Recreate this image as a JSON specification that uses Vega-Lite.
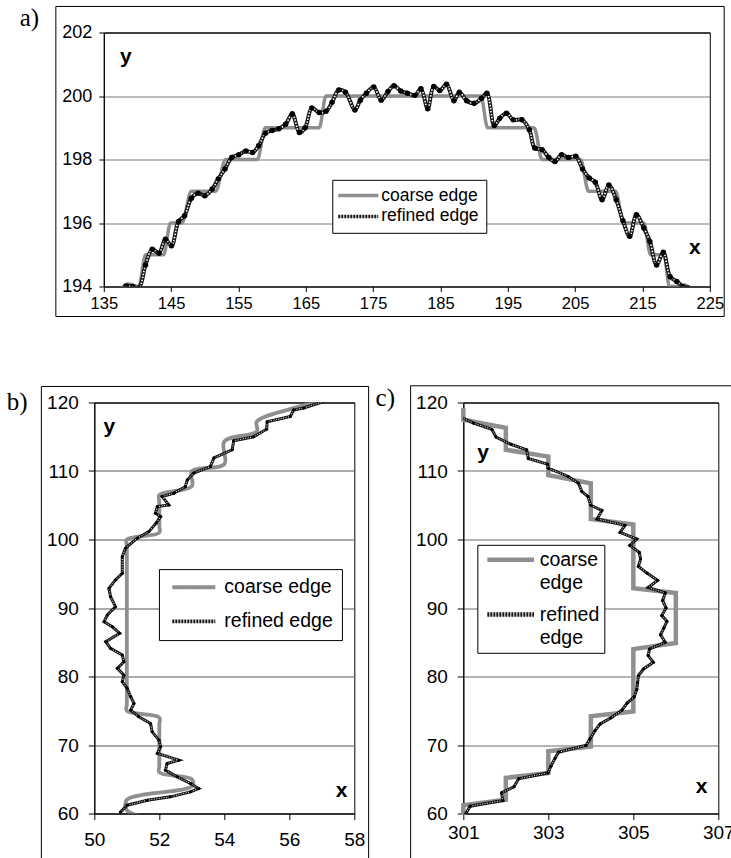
{
  "$schema": "https://vega.github.io/schema/vega-lite/v6.json",
  "background": "white",
  "padding": {"left": 6, "top": 4.5, "right": 0, "bottom": 0},
  "autosize": {"type": "pad"},
  "config": {
    "font": "Liberation Sans",
    "view": {"stroke": "#000", "strokeWidth": 1},
    "axis": {"title": null, "labelFont": "Liberation Sans", "labelColor": "#000", "domainColor": "#000", "tickColor": "#000", "labelFlush": false, "labelOverlap": false, "labelBound": false, "domainWidth": 1, "tickWidth": 1},
    "legend": {"title": null, "orient": "none", "strokeColor": "#000", "fillColor": "#fff", "labelFont": "Liberation Sans", "labelColor": "#000", "symbolType": "stroke"}
  },
  "datasets": {
    "coarseA": [
      {"x": 137.7, "y": 193.95}, {"x": 138.6, "y": 194.08}, {"x": 140.2, "y": 194.0}, {"x": 141.2, "y": 195.0}, {"x": 143.9, "y": 195.0}, {"x": 144.9, "y": 196.0}, {"x": 146.6, "y": 196.0}, {"x": 148.0, "y": 197.0}, {"x": 151.6, "y": 197.0}, {"x": 153.1, "y": 198.0}, {"x": 157.8, "y": 198.0}, {"x": 159.0, "y": 199.0}, {"x": 167.0, "y": 199.0}, {"x": 168.0, "y": 200.0}, {"x": 191.0, "y": 200.0}, {"x": 192.0, "y": 199.0}, {"x": 198.9, "y": 199.0}, {"x": 200.1, "y": 198.0}, {"x": 205.8, "y": 198.0}, {"x": 207.0, "y": 197.0}, {"x": 211.0, "y": 197.0}, {"x": 212.2, "y": 196.0}, {"x": 215.2, "y": 196.0}, {"x": 216.2, "y": 195.0}, {"x": 218.2, "y": 195.0}, {"x": 219.0, "y": 194.0}, {"x": 220.5, "y": 194.0}, {"x": 221.3, "y": 194.05}, {"x": 222.0, "y": 193.95}
    ],
    "refinedA": [
      {"x": 138.3, "y": 194.02}, {"x": 139.3, "y": 194.0}, {"x": 140.2, "y": 193.95}, {"x": 141.2, "y": 194.68}, {"x": 142.2, "y": 195.17}, {"x": 143.2, "y": 195.05}, {"x": 144.15, "y": 195.49}, {"x": 145.05, "y": 195.28}, {"x": 146.1, "y": 196.05}, {"x": 147.0, "y": 196.23}, {"x": 148.0, "y": 196.78}, {"x": 149.0, "y": 196.94}, {"x": 150.0, "y": 196.86}, {"x": 151.1, "y": 197.07}, {"x": 152.0, "y": 197.39}, {"x": 153.0, "y": 197.7}, {"x": 154.0, "y": 198.06}, {"x": 155.05, "y": 198.15}, {"x": 156.1, "y": 198.27}, {"x": 157.1, "y": 198.22}, {"x": 158.0, "y": 198.43}, {"x": 159.0, "y": 198.83}, {"x": 160.0, "y": 198.91}, {"x": 161.0, "y": 198.97}, {"x": 162.0, "y": 199.11}, {"x": 163.0, "y": 199.44}, {"x": 164.05, "y": 198.85}, {"x": 164.9, "y": 199.0}, {"x": 165.9, "y": 199.62}, {"x": 167.0, "y": 199.48}, {"x": 168.0, "y": 199.52}, {"x": 168.9, "y": 199.8}, {"x": 169.9, "y": 200.19}, {"x": 170.9, "y": 200.12}, {"x": 172.3, "y": 199.56}, {"x": 173.1, "y": 199.87}, {"x": 174.0, "y": 200.09}, {"x": 175.1, "y": 200.28}, {"x": 176.2, "y": 199.87}, {"x": 177.2, "y": 200.14}, {"x": 178.1, "y": 200.32}, {"x": 179.1, "y": 200.16}, {"x": 180.1, "y": 200.09}, {"x": 181.2, "y": 200.02}, {"x": 182.1, "y": 200.23}, {"x": 183.1, "y": 199.6}, {"x": 184.0, "y": 200.3}, {"x": 184.9, "y": 200.17}, {"x": 185.9, "y": 200.37}, {"x": 187.0, "y": 199.85}, {"x": 187.8, "y": 200.12}, {"x": 188.9, "y": 199.85}, {"x": 190.0, "y": 199.77}, {"x": 191.1, "y": 199.93}, {"x": 191.9, "y": 200.09}, {"x": 193.0, "y": 199.07}, {"x": 193.8, "y": 199.3}, {"x": 194.8, "y": 199.46}, {"x": 195.8, "y": 199.25}, {"x": 197.1, "y": 199.25}, {"x": 198.2, "y": 198.94}, {"x": 199.0, "y": 198.36}, {"x": 200.1, "y": 198.31}, {"x": 201.1, "y": 198.06}, {"x": 202.0, "y": 197.94}, {"x": 203.0, "y": 198.15}, {"x": 204.0, "y": 198.06}, {"x": 205.1, "y": 198.1}, {"x": 206.1, "y": 197.7}, {"x": 207.1, "y": 197.42}, {"x": 208.0, "y": 197.28}, {"x": 209.0, "y": 196.73}, {"x": 210.0, "y": 197.2}, {"x": 211.1, "y": 196.73}, {"x": 212.1, "y": 196.07}, {"x": 213.1, "y": 195.58}, {"x": 214.1, "y": 196.26}, {"x": 215.2, "y": 195.84}, {"x": 216.1, "y": 195.42}, {"x": 217.1, "y": 194.68}, {"x": 218.1, "y": 195.08}, {"x": 219.1, "y": 194.31}, {"x": 220.1, "y": 194.16}, {"x": 221.0, "y": 194.0}, {"x": 221.8, "y": 193.95}
    ],
    "coarseB": [
      {"x": 57.1, "y": 120.3}, {"x": 56, "y": 119}, {"x": 55, "y": 117.2}, {"x": 55, "y": 115.8}, {"x": 54, "y": 114.3}, {"x": 54, "y": 111}, {"x": 53, "y": 110}, {"x": 53, "y": 107.8}, {"x": 52, "y": 106.5}, {"x": 52, "y": 105.5}, {"x": 52, "y": 102}, {"x": 52, "y": 101}, {"x": 51, "y": 100}, {"x": 51, "y": 99}, {"x": 51, "y": 76}, {"x": 51, "y": 75}, {"x": 52, "y": 74}, {"x": 52, "y": 73}, {"x": 52, "y": 67}, {"x": 52, "y": 66}, {"x": 53, "y": 65}, {"x": 53, "y": 64}, {"x": 51, "y": 62}, {"x": 51, "y": 60.5}, {"x": 51.7, "y": 59.3}
    ],
    "refinedB": [
      {"x": 57.06, "y": 120.15}, {"x": 56.44, "y": 119.2}, {"x": 56.13, "y": 118.9}, {"x": 56.03, "y": 117.96}, {"x": 55.32, "y": 117.2}, {"x": 55.3, "y": 116.1}, {"x": 54.9, "y": 115.0}, {"x": 54.29, "y": 114.4}, {"x": 54.24, "y": 113.1}, {"x": 53.68, "y": 111.9}, {"x": 53.57, "y": 110.65}, {"x": 53.06, "y": 109.7}, {"x": 52.86, "y": 108.7}, {"x": 52.8, "y": 107.7}, {"x": 52.45, "y": 106.77}, {"x": 52.09, "y": 106.27}, {"x": 52.29, "y": 105.05}, {"x": 51.94, "y": 104.8}, {"x": 51.88, "y": 103.84}, {"x": 52.04, "y": 103.34}, {"x": 51.9, "y": 102.38}, {"x": 51.68, "y": 101.15}, {"x": 51.32, "y": 100.2}, {"x": 50.96, "y": 98.73}, {"x": 50.86, "y": 97.5}, {"x": 50.86, "y": 95.07}, {"x": 50.65, "y": 94.1}, {"x": 50.45, "y": 92.88}, {"x": 50.5, "y": 91.65}, {"x": 50.65, "y": 90.19}, {"x": 50.4, "y": 88.98}, {"x": 50.3, "y": 88.0}, {"x": 50.55, "y": 87.27}, {"x": 50.78, "y": 86.3}, {"x": 50.35, "y": 85.08}, {"x": 50.5, "y": 84.1}, {"x": 50.86, "y": 83.13}, {"x": 50.91, "y": 82.15}, {"x": 50.71, "y": 81.19}, {"x": 50.91, "y": 80.2}, {"x": 50.86, "y": 79.23}, {"x": 51.01, "y": 78.27}, {"x": 51.12, "y": 77.04}, {"x": 51.22, "y": 76.07}, {"x": 51.12, "y": 75.1}, {"x": 51.37, "y": 74.12}, {"x": 51.73, "y": 73.15}, {"x": 51.78, "y": 71.92}, {"x": 51.99, "y": 70.71}, {"x": 52.04, "y": 69.73}, {"x": 51.94, "y": 68.77}, {"x": 52.6, "y": 67.79}, {"x": 52.24, "y": 67.3}, {"x": 52.19, "y": 66.33}, {"x": 52.55, "y": 65.35}, {"x": 52.96, "y": 64.38}, {"x": 53.21, "y": 63.65}, {"x": 52.96, "y": 63.16}, {"x": 52.34, "y": 62.43}, {"x": 51.63, "y": 61.94}, {"x": 51.01, "y": 61.21}, {"x": 50.81, "y": 60.23}, {"x": 50.91, "y": 59.5}
    ],
    "coarseC": [
      {"x": 301, "y": 119.2}, {"x": 301, "y": 117.5}, {"x": 302, "y": 116.3}, {"x": 302, "y": 113.1}, {"x": 303, "y": 112.1}, {"x": 303, "y": 109.4}, {"x": 304, "y": 108.2}, {"x": 304, "y": 103}, {"x": 305, "y": 102.2}, {"x": 305, "y": 92.9}, {"x": 306, "y": 92.2}, {"x": 306, "y": 84.9}, {"x": 305, "y": 84}, {"x": 305, "y": 74.9}, {"x": 304, "y": 74.2}, {"x": 304, "y": 69.8}, {"x": 303, "y": 69.1}, {"x": 303, "y": 65.9}, {"x": 302, "y": 65.2}, {"x": 302, "y": 62}, {"x": 301, "y": 61.2}, {"x": 301, "y": 59.8}
    ],
    "refinedC": [
      {"x": 300.96, "y": 117.8}, {"x": 301.24, "y": 117.0}, {"x": 301.67, "y": 116.1}, {"x": 301.77, "y": 114.95}, {"x": 302.12, "y": 113.9}, {"x": 302.49, "y": 113.1}, {"x": 302.53, "y": 111.83}, {"x": 302.98, "y": 111.0}, {"x": 303.0, "y": 110.4}, {"x": 303.47, "y": 109.2}, {"x": 303.71, "y": 108.2}, {"x": 303.79, "y": 107.0}, {"x": 303.93, "y": 106.3}, {"x": 304.0, "y": 105.0}, {"x": 304.26, "y": 104.25}, {"x": 304.15, "y": 103.0}, {"x": 304.8, "y": 102.06}, {"x": 304.69, "y": 101.04}, {"x": 305.08, "y": 100.07}, {"x": 304.92, "y": 99.14}, {"x": 305.14, "y": 98.12}, {"x": 305.17, "y": 97.15}, {"x": 305.12, "y": 96.08}, {"x": 305.32, "y": 95.1}, {"x": 305.57, "y": 94.04}, {"x": 305.35, "y": 93.0}, {"x": 305.75, "y": 92.2}, {"x": 305.69, "y": 91.1}, {"x": 305.77, "y": 90.0}, {"x": 305.67, "y": 88.9}, {"x": 305.79, "y": 88.05}, {"x": 305.72, "y": 87.1}, {"x": 305.64, "y": 86.1}, {"x": 305.75, "y": 85.0}, {"x": 305.38, "y": 84.0}, {"x": 305.35, "y": 83.05}, {"x": 305.47, "y": 82.07}, {"x": 305.24, "y": 81.1}, {"x": 305.12, "y": 80.13}, {"x": 305.1, "y": 79.07}, {"x": 305.08, "y": 78.09}, {"x": 305.02, "y": 77.03}, {"x": 304.86, "y": 76.15}, {"x": 304.73, "y": 75.07}, {"x": 304.47, "y": 73.96}, {"x": 304.22, "y": 73.08}, {"x": 304.1, "y": 72.1}, {"x": 303.98, "y": 70.9}, {"x": 303.89, "y": 69.96}, {"x": 303.24, "y": 68.95}, {"x": 303.16, "y": 68.1}, {"x": 303.06, "y": 66.9}, {"x": 302.99, "y": 65.94}, {"x": 302.3, "y": 65.06}, {"x": 302.19, "y": 63.9}, {"x": 301.9, "y": 63.02}, {"x": 301.93, "y": 61.9}, {"x": 301.16, "y": 61.07}, {"x": 301.06, "y": 60.0}, {"x": 300.98, "y": 59.6}
    ]
  },
  "spacing": 66,
  "center": true,
  "bounds": "full",
  "resolve": {"scale": {"x": "independent", "y": "independent", "color": "independent"}, "legend": {"color": "independent"}},
  "vconcat": [
    {
      "width": 606,
      "height": 254,
      "layer": [
        {
          "data": {"values": [{}]},
          "mark": {"type": "rect", "filled": false, "stroke": "#000", "strokeWidth": 1, "clip": false},
          "encoding": {
            "x": {"datum": 127.88, "type": "quantitative", "scale": {"domain": [135, 225], "nice": false, "zero": false},
                  "axis": {"values": [135, 145, 155, 165, 175, 185, 195, 205, 215, 225], "grid": false, "tickSize": 5, "labelFontSize": 16.5, "labelPadding": 4}},
            "x2": {"datum": 227.14},
            "y": {"datum": 202.82, "type": "quantitative", "scale": {"domain": [194, 202], "nice": false, "zero": false},
                  "axis": {"values": [194, 196, 198, 200, 202], "grid": true, "gridColor": {"condition": {"test": "datum.value >= 202", "value": "#000"}, "value": "#7a7a7a"}, "tickSize": 5, "labelFontSize": 18, "labelPadding": 7}},
            "y2": {"datum": 193.055}
          }
        },
        {
          "data": {"name": "coarseA"},
          "mark": {"type": "line", "interpolate": "monotone", "strokeWidth": 3.5, "clip": true},
          "encoding": {
            "x": {"field": "x", "type": "quantitative"},
            "y": {"field": "y", "type": "quantitative"},
            "color": {"datum": "coarse edge", "type": "nominal",
              "scale": {"domain": ["coarse edge", "refined edge"], "range": ["#8f8f8f", "#151515"]},
              "legend": {"legendX": 228.5, "legendY": 147.3, "padding": 7, "labelFontSize": 17.5, "symbolSize": 1600, "symbolStrokeWidth": 3.5, "symbolOffset": -3, "labelOffset": 1, "rowPadding": 1.9,
                "encode": {
                  "symbols": {"update": {"y": {"value": 8.75}, "strokeDash": {"signal": "datum.value === 'coarse edge' ? [1,0] : [2,1]"}}},
                  "labels": {"update": {"y": {"value": 8.75}}}
                }}}
          }
        },
        {
          "data": {"name": "refinedA"},
          "mark": {"type": "line", "interpolate": "catmull-rom", "strokeWidth": 4, "clip": true},
          "encoding": {
            "x": {"field": "x", "type": "quantitative"},
            "y": {"field": "y", "type": "quantitative"},
            "color": {"datum": "refined edge", "type": "nominal"}
          }
        },
        {
          "data": {"name": "refinedA"},
          "mark": {"type": "line", "interpolate": "catmull-rom", "strokeWidth": 1.6, "color": "#ffffff", "strokeDash": [1.5, 1.5], "clip": true},
          "encoding": {
            "x": {"field": "x", "type": "quantitative"},
            "y": {"field": "y", "type": "quantitative"}
          }
        },
        {
          "data": {"name": "refinedA"},
          "mark": {"type": "circle", "size": 30, "color": "#000", "opacity": 1, "clip": true},
          "encoding": {
            "x": {"field": "x", "type": "quantitative"},
            "y": {"field": "y", "type": "quantitative"}
          }
        },
        {
          "data": {"values": [{}]},
          "mark": {"type": "text", "text": "a)", "font": "Liberation Serif", "fontSize": 25, "align": "left", "baseline": "alphabetic", "color": "#000"},
          "encoding": {"x": {"datum": 122.52, "type": "quantitative"}, "y": {"datum": 202.189, "type": "quantitative"}}
        },
        {
          "data": {"values": [{}]},
          "mark": {"type": "text", "text": "y", "font": "Liberation Sans", "fontWeight": "bold", "fontSize": 21, "align": "left", "baseline": "alphabetic", "color": "#000"},
          "encoding": {"x": {"datum": 137.39, "type": "quantitative"}, "y": {"datum": 201.055, "type": "quantitative"}}
        },
        {
          "data": {"values": [{}]},
          "mark": {"type": "text", "text": "x", "font": "Liberation Sans", "fontWeight": "bold", "fontSize": 21, "align": "left", "baseline": "alphabetic", "color": "#000"},
          "encoding": {"x": {"datum": 221.9, "type": "quantitative"}, "y": {"datum": 195.008, "type": "quantitative"}}
        }
      ]
    },
    {
      "hconcat": [
        {
          "width": 260,
          "height": 411,
          "layer": [
            {
              "data": {"values": [{}]},
              "mark": {"type": "rect", "filled": false, "stroke": "#000", "strokeWidth": 1, "clip": false},
              "encoding": {
                "x": {"datum": 48.37, "type": "quantitative", "scale": {"domain": [50, 58], "nice": false, "zero": false},
                      "axis": {"values": [50, 52, 54, 56, 58], "grid": false, "tickSize": 6, "labelFontSize": 19, "labelPadding": 11}},
                "x2": {"datum": 58.44},
                "y": {"datum": 122.34, "type": "quantitative", "scale": {"domain": [60, 120], "nice": false, "zero": false},
                      "axis": {"values": [60, 70, 80, 90, 100, 110, 120], "grid": true, "gridColor": {"condition": {"test": "datum.value >= 120", "value": "#000"}, "value": "#555555"}, "tickSize": 6, "labelFontSize": 19, "labelPadding": 10}},
                "y2": {"datum": 53.24}
              }
            },
            {
              "data": {"name": "coarseB"},
              "mark": {"type": "line", "interpolate": "catmull-rom", "strokeWidth": 3.8, "clip": true},
              "encoding": {
                "x": {"field": "x", "type": "quantitative"},
                "y": {"field": "y", "type": "quantitative"},
                "order": {"field": "y", "sort": "descending"},
                "color": {"datum": "coarse edge", "type": "nominal",
                  "scale": {"domain": ["coarse edge", "refined edge"], "range": ["#8f8f8f", "#151515"]},
                  "legend": {"legendX": 64.6, "legendY": 166.6, "padding": 8.4, "symbolOffset": 3, "labelFontSize": 19.5, "symbolSize": 1849, "symbolStrokeWidth": 3.8, "labelOffset": 7, "rowPadding": 13.1,
                    "encode": {
                      "symbols": {"update": {"y": {"value": 9.75}, "strokeDash": {"signal": "datum.value === 'coarse edge' ? [1,0] : [2,1]"}}},
                      "labels": {"update": {"y": {"value": 9.75}}}
                    }}}
              }
            },
            {
              "data": {"name": "refinedB"},
              "mark": {"type": "line", "strokeWidth": 3, "clip": true},
              "encoding": {
                "x": {"field": "x", "type": "quantitative"},
                "y": {"field": "y", "type": "quantitative"},
                "order": {"field": "y", "sort": "descending"},
                "color": {"datum": "refined edge", "type": "nominal"}
              }
            },
            {
              "data": {"name": "refinedB"},
              "mark": {"type": "line", "strokeWidth": 1, "color": "#ffffff", "strokeDash": [1, 1.5], "clip": true},
              "encoding": {
                "x": {"field": "x", "type": "quantitative"},
                "y": {"field": "y", "type": "quantitative"},
                "order": {"field": "y", "sort": "descending"}
              }
            },
            {
              "data": {"name": "refinedB"},
              "mark": {"type": "circle", "size": 9, "color": "#000", "opacity": 1, "clip": true},
              "encoding": {
                "x": {"field": "x", "type": "quantitative"},
                "y": {"field": "y", "type": "quantitative"}
              }
            },
            {
              "data": {"values": [{}]},
              "mark": {"type": "text", "text": "b)", "font": "Liberation Serif", "fontSize": 25, "align": "left", "baseline": "alphabetic", "color": "#000"},
              "encoding": {"x": {"datum": 47.302, "type": "quantitative"}, "y": {"datum": 118.934, "type": "quantitative"}}
            },
            {
              "data": {"values": [{}]},
              "mark": {"type": "text", "text": "y", "font": "Liberation Sans", "fontWeight": "bold", "fontSize": 21, "align": "left", "baseline": "alphabetic", "color": "#000"},
              "encoding": {"x": {"datum": 50.286, "type": "quantitative"}, "y": {"datum": 115.577, "type": "quantitative"}}
            },
            {
              "data": {"values": [{}]},
              "mark": {"type": "text", "text": "x", "font": "Liberation Sans", "fontWeight": "bold", "fontSize": 21, "align": "left", "baseline": "alphabetic", "color": "#000"},
              "encoding": {"x": {"datum": 57.425, "type": "quantitative"}, "y": {"datum": 62.44, "type": "quantitative"}}
            }
          ]
        },
        {
          "width": 255,
          "height": 411,
          "layer": [
            {
              "data": {"values": [{}]},
              "mark": {"type": "rect", "filled": false, "stroke": "#000", "strokeWidth": 1, "clip": false},
              "encoding": {
                "x": {"datum": 299.76, "type": "quantitative", "scale": {"domain": [301, 307], "nice": false, "zero": false},
                      "axis": {"values": [301, 303, 305, 307], "grid": false, "tickSize": 6, "labelFontSize": 19, "labelPadding": 4}},
                "x2": {"datum": 307.34},
                "y": {"datum": 122.44, "type": "quantitative", "scale": {"domain": [60, 120], "nice": false, "zero": false},
                      "axis": {"values": [60, 70, 80, 90, 100, 110, 120], "grid": true, "gridColor": {"condition": {"test": "datum.value >= 120", "value": "#000"}, "value": "#6a6a6a"}, "tickSize": 6, "labelFontSize": 19, "labelPadding": 10}},
                "y2": {"datum": 53.24}
              }
            },
            {
              "data": {"name": "coarseC"},
              "mark": {"type": "line", "strokeWidth": 4.5, "clip": false},
              "encoding": {
                "x": {"field": "x", "type": "quantitative"},
                "y": {"field": "y", "type": "quantitative"},
                "order": {"field": "y", "sort": "descending"},
                "color": {"datum": "coarse edge", "type": "nominal",
                  "scale": {"domain": ["coarse edge", "refined edge"], "range": ["#8f8f8f", "#151515"]},
                  "legend": {"legendX": 14, "legendY": 142.3, "padding": 5, "symbolOffset": 2.35, "labelFontSize": 19.5, "symbolSize": 2181, "symbolStrokeWidth": 4.5, "labelOffset": 3, "rowPadding": 11.7, "labelExpr": "split(datum.label, ' ')",
                    "encode": {
                      "symbols": {"update": {"y": {"value": 10}, "strokeDash": {"signal": "datum.value === 'coarse edge' ? [1,0] : [2,1]"}}},
                      "labels": {"update": {"y": {"value": 10}, "lineHeight": {"value": 23.3}}}
                    }}}
              }
            },
            {
              "data": {"name": "refinedC"},
              "mark": {"type": "line", "strokeWidth": 3, "clip": true},
              "encoding": {
                "x": {"field": "x", "type": "quantitative"},
                "y": {"field": "y", "type": "quantitative"},
                "order": {"field": "y", "sort": "descending"},
                "color": {"datum": "refined edge", "type": "nominal"}
              }
            },
            {
              "data": {"name": "refinedC"},
              "mark": {"type": "line", "strokeWidth": 1, "color": "#ffffff", "strokeDash": [1, 1.5], "clip": true},
              "encoding": {
                "x": {"field": "x", "type": "quantitative"},
                "y": {"field": "y", "type": "quantitative"},
                "order": {"field": "y", "sort": "descending"}
              }
            },
            {
              "data": {"name": "refinedC"},
              "mark": {"type": "circle", "size": 10, "color": "#000", "opacity": 1, "clip": true},
              "encoding": {
                "x": {"field": "x", "type": "quantitative"},
                "y": {"field": "y", "type": "quantitative"}
              }
            },
            {
              "data": {"values": [{}]},
              "mark": {"type": "text", "text": "c)", "font": "Liberation Serif", "fontSize": 25, "align": "left", "baseline": "alphabetic", "color": "#000"},
              "encoding": {"x": {"datum": 298.936, "type": "quantitative"}, "y": {"datum": 119.518, "type": "quantitative"}}
            },
            {
              "data": {"values": [{}]},
              "mark": {"type": "text", "text": "y", "font": "Liberation Sans", "fontWeight": "bold", "fontSize": 21, "align": "left", "baseline": "alphabetic", "color": "#000"},
              "encoding": {"x": {"datum": 301.329, "type": "quantitative"}, "y": {"datum": 111.78, "type": "quantitative"}}
            },
            {
              "data": {"values": [{}]},
              "mark": {"type": "text", "text": "x", "font": "Liberation Sans", "fontWeight": "bold", "fontSize": 21, "align": "left", "baseline": "alphabetic", "color": "#000"},
              "encoding": {"x": {"datum": 306.466, "type": "quantitative"}, "y": {"datum": 63.02, "type": "quantitative"}}
            }
          ]
        }
      ],
      "spacing": 109,
      "bounds": "flush",
      "resolve": {"scale": {"x": "independent", "y": "independent", "color": "independent"}, "legend": {"color": "independent"}}
    }
  ]
}
